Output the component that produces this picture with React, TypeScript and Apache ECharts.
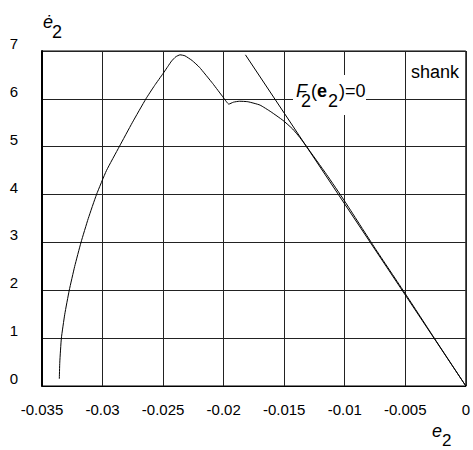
import React, { useEffect, useRef } from "react";
import * as echarts from "echarts";

// e2 values of the trajectory curve
const curveX = [
  -0.03357, -0.03353, -0.0334, -0.03312, -0.03275, -0.0323, -0.03178, -0.03118, -0.0305,
  -0.02968, -0.02862, -0.02755, -0.02642, -0.0257, -0.025, -0.0246, -0.0243, -0.02395, -0.0236,
  -0.0232, -0.0226, -0.022, -0.0209, -0.02, -0.01957, -0.0192, -0.0187, -0.018, -0.017,
  -0.0161, -0.0151, -0.0143, -0.0137, -0.0132, -0.0115, -0.01, -0.0075, -0.005, -0.0025, 0,
];
// e2-dot values of the trajectory curve
const curveY = [
  0.15, 0.5, 1.0, 1.5, 2.0, 2.5, 3.0, 3.5, 4.0,
  4.5, 5.0, 5.5, 6.0, 6.28, 6.53, 6.68, 6.79, 6.88, 6.92,
  6.9, 6.8, 6.66, 6.32, 6.02, 5.89, 5.93, 5.95, 5.94, 5.87,
  5.73, 5.55, 5.37, 5.19, 5.02, 4.42, 3.86, 2.88, 1.93, 0.96, 0,
];
// F2(e2)=0 straight line
const lineX = [-0.0182, 0];
const lineY = [6.92, 0];

const xMin = -0.035;
const xMax = 0;
const xStep = 0.005;
const yMin = 0;
const yMax = 7;
const yStep = 1;

const FONT = '"Liberation Sans", Arial, Helvetica, sans-serif';

function t(x: number, y: number, text: string, extra: any = {}) {
  return {
    type: "text",
    x,
    y,
    z: 101,
    style: {
      text,
      fill: "#000",
      fontFamily: FONT,
      fontSize: 18,
      align: "left",
      verticalAlign: "middle",
      ...extra,
    },
  };
}

export default function App() {
  const ref = useRef<HTMLDivElement>(null);
  useEffect(() => {
    if (!ref.current) return;
    const chart = echarts.init(ref.current, null, { renderer: "svg" });
    const curve = curveX.map((x, i) => [x, curveY[i]]);
    const line = lineX.map((x, i) => [x, lineY[i]]);
    chart.setOption({
      animation: false,
      backgroundColor: "#fff",
      grid: {
        left: 42,
        right: 6,
        top: 51,
        bottom: 64,
        show: true,
        borderColor: "#000",
        borderWidth: 1,
        backgroundColor: "transparent",
      },
      xAxis: {
        type: "value",
        min: xMin,
        max: xMax,
        interval: xStep,
        axisLine: { show: true, onZero: false, lineStyle: { color: "#000", width: 1 } },
        axisTick: { show: false },
        splitLine: { show: true, lineStyle: { color: "#222", width: 1 } },
        axisLabel: {
          margin: 16,
          color: "#000",
          fontFamily: FONT,
          fontSize: 15,
          formatter: (v: number) => String(+v.toFixed(3)),
        },
      },
      yAxis: {
        type: "value",
        min: yMin,
        max: yMax,
        interval: yStep,
        axisLine: { show: true, onZero: false, lineStyle: { color: "#000", width: 2 } },
        axisTick: { show: false },
        splitLine: { show: true, lineStyle: { color: "#222", width: 1 } },
        axisLabel: {
          margin: 24,
          color: "#000",
          fontFamily: FONT,
          fontSize: 15,
          verticalAlign: "bottom",
          lineHeight: 15,
        },
      },
      series: [
        {
          type: "line",
          data: curve,
          showSymbol: false,
          symbol: "none",
          smooth: 0.15,
          lineStyle: { color: "#000", width: 1 },
          z: 3,
        },
        {
          type: "line",
          data: line,
          showSymbol: false,
          symbol: "none",
          lineStyle: { color: "#000", width: 1 },
          z: 3,
        },
      ],
      graphic: [
        {
          type: "rect",
          z: 100,
          shape: { x: 293, y: 75, width: 73, height: 40 },
          style: { fill: "#fff" },
        },
        t(296, 91, "F", { fontStyle: "italic" }),
        t(301, 101, "2"),
        t(311, 91, "("),
        t(317, 91, "e", { fontWeight: "bold" }),
        t(328, 101, "2"),
        t(339, 91, ")=0"),
        t(411, 72, "shank"),
        t(43, 22, "ė", { fontStyle: "italic" }),
        t(52, 32, "2"),
        t(432, 431, "e", { fontStyle: "italic" }),
        t(442, 440, "2", { fontSize: 17 }),
      ],
    });
    return () => chart.dispose();
  }, []);
  return (
    <div
      ref={ref}
      style={{ position: "fixed", left: 0, top: 0, width: 473, height: 450, background: "#fff" }}
    />
  );
}
